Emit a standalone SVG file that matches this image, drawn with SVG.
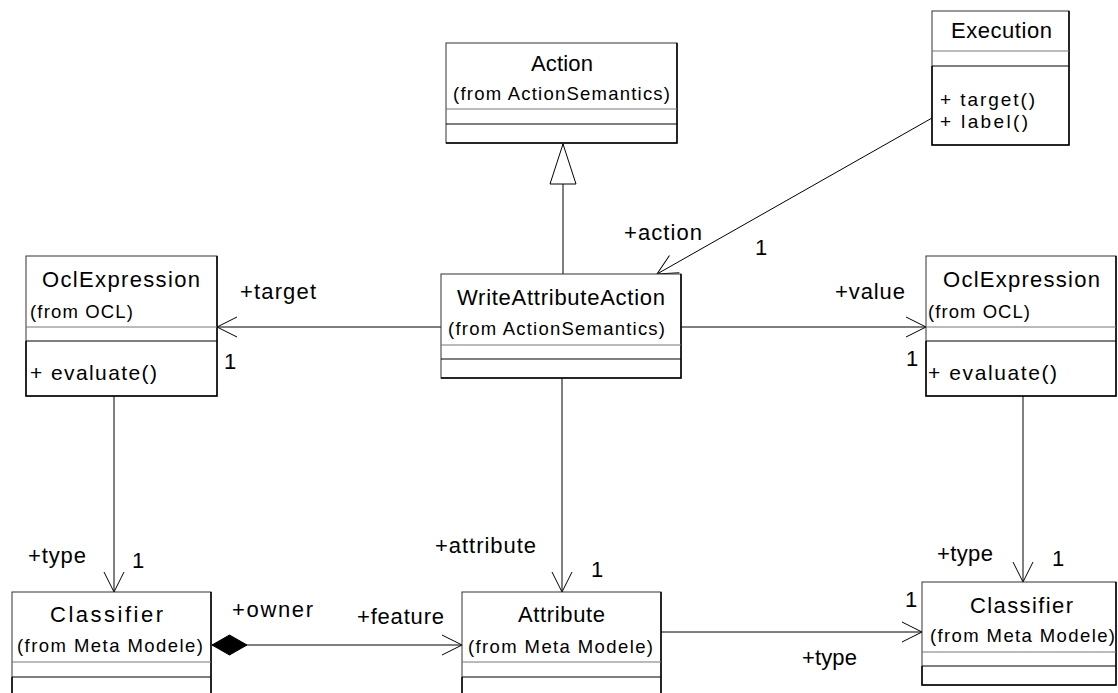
<svg xmlns="http://www.w3.org/2000/svg" width="1118" height="693" viewBox="0 0 1118 693">
  <style>
    text { font-family: "Liberation Sans", Arial, sans-serif; fill: #000; }
    .title { font-size: 22px; }
    .sub { font-size: 18.5px; }
    .op { font-size: 21px; }
    .op-tight { font-size: 19px; }
    .lbl { font-size: 22px; }
    .box { fill: #fff; stroke: #333; stroke-width: 1; }
    .edge { fill: none; stroke: #000; stroke-width: 1.5; }
    .sep1 { stroke: #777; stroke-width: 1; }
    .sep2 { stroke: #000; stroke-width: 1.2; }
    .conn { fill: none; stroke: #000; stroke-width: 1; }
  </style>
  <defs>
    <marker id="open" markerUnits="userSpaceOnUse" viewBox="-22 -12 24 24" refX="0" refY="0" markerWidth="24" markerHeight="24" orient="auto">
      <path d="M-20,-10 L0,0 L-20,10" fill="none" stroke="#000" stroke-width="1"/>
    </marker>
    <marker id="gen" markerUnits="userSpaceOnUse" viewBox="-42 -15 44 30" refX="0" refY="0" markerWidth="44" markerHeight="30" orient="auto">
      <path d="M0,0 L-40,-13 L-40,13 Z" fill="#fff" stroke="#000" stroke-width="1"/>
    </marker>
    <marker id="diamond" markerUnits="userSpaceOnUse" viewBox="-1 -11 37 22" refX="0" refY="0" markerWidth="37" markerHeight="22" orient="auto">
      <path d="M0,0 L17.5,-10 L35,0 L17.5,10 Z" fill="#000" stroke="#000" stroke-width="1"/>
    </marker>
  </defs>

  <!-- associations, generalization and composition -->
  <g id="connectors">
    <path class="conn" d="M563,274 L563,144" marker-end="url(#gen)"/>
    <path class="conn" d="M932,118 L657,274" marker-end="url(#open)"/>
    <path class="conn" d="M441,327 L217,327" marker-end="url(#open)"/>
    <path class="conn" d="M681,327 L926,327" marker-end="url(#open)"/>
    <path class="conn" d="M562,378 L562,592" marker-end="url(#open)"/>
    <path class="conn" d="M114,396 L114,592" marker-end="url(#open)"/>
    <path class="conn" d="M1023,396 L1023,582" marker-end="url(#open)"/>
    <path class="conn" d="M212,645 L462,645" marker-start="url(#diamond)" marker-end="url(#open)"/>
    <path class="conn" d="M661,632 L922,632" marker-end="url(#open)"/>

    <text class="lbl" x="624" y="240" textLength="78" lengthAdjust="spacing">+action</text>
    <text class="lbl" x="755" y="255">1</text>
    <text class="lbl" x="240" y="299" textLength="76" lengthAdjust="spacing">+target</text>
    <text class="lbl" x="224" y="369">1</text>
    <text class="lbl" x="835" y="299" textLength="70" lengthAdjust="spacing">+value</text>
    <text class="lbl" x="906" y="366">1</text>
    <text class="lbl" x="435" y="553" textLength="101" lengthAdjust="spacing">+attribute</text>
    <text class="lbl" x="591" y="577">1</text>
    <text class="lbl" x="28" y="563" textLength="58" lengthAdjust="spacing">+type</text>
    <text class="lbl" x="132" y="568">1</text>
    <text class="lbl" x="937" y="561" textLength="56" lengthAdjust="spacing">+type</text>
    <text class="lbl" x="1052" y="566">1</text>
    <text class="lbl" x="232" y="617" textLength="81" lengthAdjust="spacing">+owner</text>
    <text class="lbl" x="357" y="624" textLength="87" lengthAdjust="spacing">+feature</text>
    <text class="lbl" x="905" y="607">1</text>
    <text class="lbl" x="802" y="665" textLength="55" lengthAdjust="spacing">+type</text>
  </g>

  <g id="action">
    <rect class="box" x="446" y="43" width="231" height="100"/>
    <path class="edge" d="M677,43 L677,143 L446,143"/>
    <line class="sep1" x1="446" y1="109" x2="677" y2="109"/>
    <line class="sep2" x1="446" y1="124" x2="677" y2="124"/>
    <text class="title" x="531" y="71" textLength="62" lengthAdjust="spacing">Action</text>
    <text class="sub" x="453" y="100" textLength="217" lengthAdjust="spacing">(from ActionSemantics)</text>
  </g>

  <g id="execution">
    <rect class="box" x="932" y="11" width="137" height="134"/>
    <path class="edge" d="M1069,11 L1069,145 L932,145 L932,66"/>
    <line class="sep1" x1="932" y1="51" x2="1069" y2="51"/>
    <line class="sep2" x1="932" y1="66" x2="1069" y2="66"/>
    <text class="title" x="951" y="38" textLength="101" lengthAdjust="spacing">Execution</text>
    <text class="op-tight" x="940" y="106" textLength="95" lengthAdjust="spacing">+ target()</text>
    <text class="op-tight" x="940" y="128" textLength="88" lengthAdjust="spacing">+ label()</text>
  </g>

  <g id="ocl-target">
    <rect class="box" x="26" y="256" width="191" height="140"/>
    <path class="edge" d="M217,256 L217,396 L26,396 L26,341"/>
    <line class="sep1" x1="26" y1="327" x2="217" y2="327"/>
    <line class="sep2" x1="26" y1="341" x2="217" y2="341"/>
    <text class="title" x="42" y="287" textLength="158" lengthAdjust="spacing">OclExpression</text>
    <text class="sub" x="30" y="318" textLength="103" lengthAdjust="spacing">(from OCL)</text>
    <text class="op" x="30" y="380" textLength="127" lengthAdjust="spacing">+ evaluate()</text>
  </g>

  <g id="write-attribute-action">
    <rect class="box" x="441" y="274" width="240" height="104"/>
    <path class="edge" d="M681,274 L681,378 L441,378"/>
    <line class="sep1" x1="441" y1="345" x2="681" y2="345"/>
    <line class="sep2" x1="441" y1="359" x2="681" y2="359"/>
    <text class="title" x="457" y="305" textLength="208" lengthAdjust="spacing">WriteAttributeAction</text>
    <text class="sub" x="448" y="335" textLength="217" lengthAdjust="spacing">(from ActionSemantics)</text>
  </g>

  <g id="ocl-value">
    <rect class="box" x="926" y="256" width="190" height="140"/>
    <path class="edge" d="M1116,256 L1116,396 L926,396 L926,341"/>
    <line class="sep1" x1="926" y1="327" x2="1116" y2="327"/>
    <line class="sep2" x1="926" y1="341" x2="1116" y2="341"/>
    <text class="title" x="943" y="287" textLength="157" lengthAdjust="spacing">OclExpression</text>
    <text class="sub" x="928" y="318" textLength="102" lengthAdjust="spacing">(from OCL)</text>
    <text class="op" x="928" y="380" textLength="129" lengthAdjust="spacing">+ evaluate()</text>
  </g>

  <g id="classifier-owner">
    <rect class="box" x="12" y="592" width="199" height="110"/>
    <path class="edge" d="M211,592 L211,702 M12,677 L12,702"/>
    <line class="sep1" x1="12" y1="662" x2="211" y2="662"/>
    <line class="sep2" x1="12" y1="677" x2="211" y2="677"/>
    <text class="title" x="50" y="622" textLength="113" lengthAdjust="spacing">Classifier</text>
    <text class="sub" x="17" y="652" textLength="186" lengthAdjust="spacing">(from Meta Modele)</text>
  </g>

  <g id="attribute">
    <rect class="box" x="462" y="592" width="199" height="110"/>
    <path class="edge" d="M661,592 L661,702 M462,677 L462,702"/>
    <line class="sep1" x1="462" y1="662" x2="661" y2="662"/>
    <line class="sep2" x1="462" y1="677" x2="661" y2="677"/>
    <text class="title" x="518" y="622" textLength="87" lengthAdjust="spacing">Attribute</text>
    <text class="sub" x="468" y="653" textLength="185" lengthAdjust="spacing">(from Meta Modele)</text>
  </g>

  <g id="classifier-type">
    <rect class="box" x="922" y="582" width="194" height="103"/>
    <path class="edge" d="M1116,582 L1116,685 L922,685 L922,666"/>
    <line class="sep1" x1="922" y1="652" x2="1116" y2="652"/>
    <line class="sep2" x1="922" y1="666" x2="1116" y2="666"/>
    <text class="title" x="970" y="613" textLength="103" lengthAdjust="spacing">Classifier</text>
    <text class="sub" x="930" y="642" textLength="185" lengthAdjust="spacing">(from Meta Modele)</text>
  </g>
</svg>
